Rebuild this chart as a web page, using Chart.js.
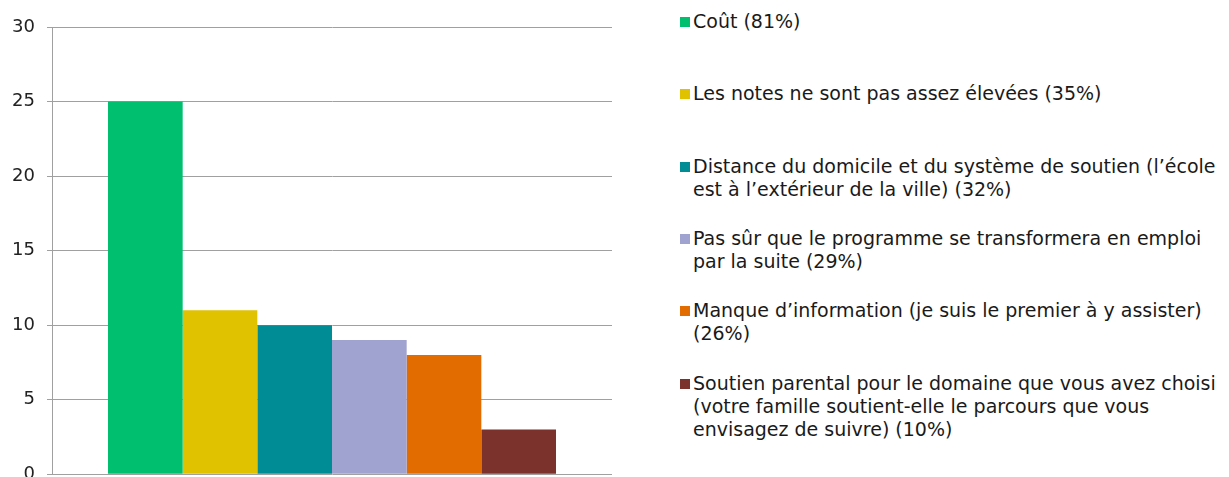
<!DOCTYPE html>
<html>
<head>
<meta charset="utf-8">
<script src="https://cdn.jsdelivr.net/npm/chart.js@4/dist/chart.umd.min.js"></script>
<style>
  html, body { margin: 0; padding: 0; background: #fff; }
  body { width: 1229px; height: 477px; position: relative; overflow: hidden; font-family: 'DejaVu Sans', Verdana, sans-serif; }
  #chartBox { position: absolute; left: 0; top: 0; width: 620px; height: 497px; }
  #legend { position: absolute; left: 680px; top: 0; width: 549px; }
  .item { position: absolute; left: 0; width: 549px; font-size: 19px; line-height: 23px; color: #1a1a1a; }
  .item .sw { position: absolute; left: 0; top: 7px; width: 10px; height: 10px; }
  .item .txt { margin-left: 13px; width: 533px; }
</style>
</head>
<body>
<div id="chartBox"><canvas id="chart"></canvas></div>
<div id="legend"></div>
<script>
// data
let labels = ['Coût (81%)',
  'Les notes ne sont pas assez élevées (35%)',
  'Distance du domicile et du système de soutien (l’école est à l’extérieur de la ville) (32%)',
  'Pas sûr que le programme se transformera en emploi par la suite (29%)',
  'Manque d’information (je suis le premier à y assister) (26%)',
  'Soutien parental pour le domaine que vous avez choisi (votre famille soutient-elle le parcours que vous envisagez de suivre) (10%)']
let values = [25, 11, 10, 9, 8, 3]
let colors = ['#00C070', '#E0C200', '#008C94', '#A0A2CF', '#E36C00', '#7B312C']
let yTicks = [0, 5, 10, 15, 20, 25, 30]

let datasets = []
for (var i = 0; i < values.length; i++) {
  datasets.push({
    label: labels[i],
    data: [values[i]],
    backgroundColor: colors[i],
    borderWidth: 0
  })
}

var ctx = document.getElementById('chart').getContext('2d')
var myChart = new Chart(ctx, {
  type: 'bar',
  data: { labels: [''], datasets: datasets },
  options: {
    responsive: true,
    maintainAspectRatio: false,
    animation: false,
    layout: { padding: { top: 27, bottom: 3, right: 8, left: 0 } },
    plugins: { legend: { display: false }, tooltip: { enabled: false } },
    datasets: { bar: { categoryPercentage: 0.8, barPercentage: 1 } },
    scales: {
      x: { display: false },
      y: {
        min: 0,
        max: 30,
        afterBuildTicks: function (scale) {
          scale.ticks = yTicks.map(function (v) { return { value: v } })
        },
        afterFit: function (scale) { scale.width = 52 },
        ticks: {
          color: '#222',
          padding: 12,
          font: { family: "'DejaVu Sans', Verdana, sans-serif", size: 18 }
        },
        grid: { color: '#a0a0a0', lineWidth: 1, tickLength: 5 },
        border: { color: '#a0a0a0', width: 1 }
      }
    }
  }
})

// legend from the chart datasets
let $legend = document.getElementById('legend')
myChart.data.datasets.forEach(function (ds, index) {
  let item = document.createElement('div')
  item.className = 'item'
  item.style.top = (10 + index * 72.3) + 'px'
  let sw = document.createElement('span')
  sw.className = 'sw'
  sw.style.background = ds.backgroundColor
  let txt = document.createElement('div')
  txt.className = 'txt'
  txt.textContent = ds.label
  item.appendChild(sw)
  item.appendChild(txt)
  $legend.appendChild(item)
})
</script>
</body>
</html>
